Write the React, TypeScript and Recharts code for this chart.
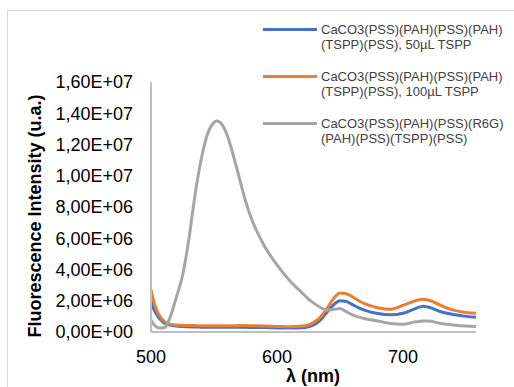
import { LineChart, Line, XAxis, YAxis } from "recharts";

// wavelength grid (nm)
const wavelengths = [
  500, 502, 505, 508, 511, 515, 520, 525, 530, 535, 540, 545, 550, 552, 555, 560, 565, 570, 575, 580,
  590, 600, 610, 620, 625, 630, 635, 640, 645, 650, 655, 660, 665, 670, 680, 690, 700, 710, 716, 720,
  730, 740, 750, 758,
];

// intensities (x 1e6 u.a.)
const tspp50 = [
  2.0, 1.5, 1.05, 0.75, 0.55, 0.45, 0.38, 0.35, 0.33, 0.32, 0.31, 0.3, 0.3, 0.3, 0.3, 0.3, 0.3, 0.3, 0.3, 0.29,
  0.28, 0.26, 0.25, 0.27, 0.33, 0.48, 0.8, 1.3, 1.75, 2.0, 1.95, 1.75, 1.55, 1.38, 1.18, 1.1, 1.2, 1.5, 1.65, 1.6,
  1.3, 1.12, 1.0, 0.95,
];
const tspp100 = [
  2.7, 2.0, 1.3, 0.9, 0.65, 0.5, 0.45, 0.43, 0.42, 0.41, 0.4, 0.4, 0.4, 0.4, 0.4, 0.4, 0.4, 0.41, 0.41, 0.4,
  0.38, 0.35, 0.33, 0.38, 0.45, 0.65, 1.0, 1.55, 2.15, 2.5, 2.45, 2.25, 2.0, 1.8, 1.55, 1.45, 1.7, 2.0, 2.1, 2.05,
  1.7, 1.4, 1.25, 1.2,
];
const r6g = [
  0.75, 0.5, 0.3, 0.25, 0.3, 0.9, 2.2, 3.6, 5.9, 8.8, 11.1, 12.7, 13.4, 13.5, 13.4, 12.7, 11.4, 9.9, 8.4, 7.2,
  5.5, 4.3, 3.3, 2.5, 2.1, 1.8, 1.55, 1.4, 1.45, 1.5, 1.3, 1.1, 0.95, 0.85, 0.7, 0.55, 0.5, 0.65, 0.7, 0.7,
  0.55, 0.45, 0.38, 0.35,
];

const seriesNames = [
  "CaCO3(PSS)(PAH)(PSS)(PAH) (TSPP)(PSS), 50µL TSPP",
  "CaCO3(PSS)(PAH)(PSS)(PAH) (TSPP)(PSS), 100µL TSPP",
  "CaCO3(PSS)(PAH)(PSS)(R6G) (PAH)(PSS)(TSPP)(PSS)",
];
const colors = ["#4472C4", "#ED7D31", "#A5A5A5"];

const xTicks = [500, 600, 700];
const yTicks = [0, 2e6, 4e6, 6e6, 8e6, 1e7, 1.2e7, 1.4e7, 1.6e7];

const data = wavelengths.map((w, i) => ({
  x: w,
  s1: tspp50[i] * 1e6,
  s2: tspp100[i] * 1e6,
  s3: r6g[i] * 1e6,
}));

const FONT = "'Liberation Sans', Arial, sans-serif";

const sciFormat = (v: number) => {
  if (v === 0) return "0,00E+00";
  const e = Math.floor(Math.log10(v) + 1e-9);
  const m = v / Math.pow(10, e);
  return m.toFixed(2).replace(".", ",") + "E+" + String(e).padStart(2, "0");
};

// legend drawn as plain html so it doesn't eat into the plot area
const LegendBox = () => (
  <div
    style={{
      position: "absolute",
      left: 263,
      top: 22,
      fontFamily: FONT,
      fontSize: 13,
      lineHeight: "15px",
      color: "#404040",
    }}
  >
    {seriesNames.map((name, i) => (
      <div key={name} style={{ display: "flex", alignItems: "flex-start", marginBottom: 17 }}>
        <div style={{ width: 54, height: 3, background: colors[i], marginTop: 6, marginRight: 4, flexShrink: 0 }} />
        <div style={{ width: 192 }}>{name}</div>
      </div>
    ))}
  </div>
);

export default function App() {
  return (
    <div style={{ position: "absolute", left: 0, top: 0, width: 514, height: 387, overflow: "hidden", background: "#fff" }}>
      <div
        style={{
          position: "absolute",
          left: 7,
          top: 10,
          width: 600,
          height: 400,
          border: "1.5px solid #d9d9d9",
        }}
      />
      <div style={{ position: "absolute", left: 0, top: 0 }}>
        <LineChart width={514} height={387} data={data} margin={{ top: 82, right: 38, bottom: 0, left: 0 }}>
          <XAxis
            dataKey="x"
            type="number"
            domain={[500, 758]}
            ticks={xTicks}
            height={55}
            axisLine={{ stroke: "#BFBFBF", strokeWidth: 2 }}
            tickLine={false}
            tickMargin={12}
            tick={{ fontSize: 18, fill: "#000", fontFamily: FONT }}
            label={{
              content: () => (
                <text x={313} y={382} textAnchor="middle" fontFamily={FONT} fontSize={18} fontWeight="bold" fill="#000">
                  λ (nm)
                </text>
              ),
            }}
          />
          <YAxis
            type="number"
            domain={[0, 1.6e7]}
            ticks={yTicks}
            width={151}
            axisLine={{ stroke: "#BFBFBF", strokeWidth: 2 }}
            tickLine={false}
            tickMargin={12}
            tickFormatter={sciFormat}
            tick={{ fontSize: 18, fill: "#000", fontFamily: FONT }}
            label={{
              content: () => (
                <text
                  x={0}
                  y={0}
                  transform="translate(41,216) rotate(-90)"
                  textAnchor="middle"
                  fontFamily={FONT}
                  fontSize={18}
                  fontWeight="bold"
                  fill="#000"
                >
                  Fluorescence Intensity (u.a.)
                </text>
              ),
            }}
          />
          <Line dataKey="s1" name={seriesNames[0]} stroke={colors[0]} strokeWidth={3} dot={false} type="monotone" isAnimationActive={false} />
          <Line dataKey="s2" name={seriesNames[1]} stroke={colors[1]} strokeWidth={3} dot={false} type="monotone" isAnimationActive={false} />
          <Line dataKey="s3" name={seriesNames[2]} stroke={colors[2]} strokeWidth={3} dot={false} type="monotone" isAnimationActive={false} />
        </LineChart>
      </div>
      <LegendBox />
    </div>
  );
}
